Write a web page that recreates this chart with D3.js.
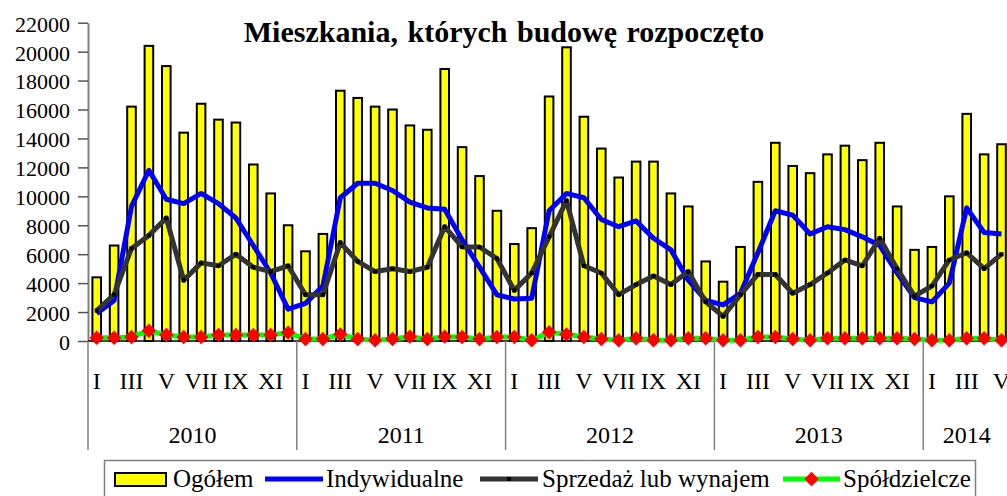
<!DOCTYPE html>
<html>
<head>
<meta charset="utf-8">
<script src="https://cdn.jsdelivr.net/npm/d3@7"></script>
<style>
  html, body { margin: 0; padding: 0; background: #fff; }
  svg { display: block; }
</style>
</head>
<body>
<svg id="chart" width="1007" height="496"></svg>
<script>
// dane: miesiące 2010-I .. 2014-V
const years = ['2010', '2011', '2012', '2013', '2014']
const monthNames = ['I', 'II', 'III', 'IV', 'V', 'VI', 'VII', 'VIII', 'IX', 'X', 'XI', 'XII']
const monthsPerYear = [12, 12, 12, 12, 5]
const yTicks = [0, 2000, 4000, 6000, 8000, 10000, 12000, 14000, 16000, 18000, 20000, 22000]

const ogolem = [
  4400, 6600, 16200, 20400, 19000, 14400, 16400, 15300, 15100, 12200, 10200, 8000,
  6200, 7400, 17300, 16800, 16200, 16000, 14900, 14600, 18800, 13400, 11400, 9000,
  6700, 7800, 16900, 20300, 15500, 13300, 11300, 12400, 12400, 10200, 9300, 5500,
  4100, 6500, 11000, 13700, 12100, 11600, 12900, 13500, 12500, 13700, 9300, 6300,
  6500, 10000, 15700, 12900, 13600
]
const indywidualne = [
  1900, 2800, 9300, 11800, 9800, 9500, 10200, 9500, 8500, 6600, 4700, 2200,
  2600, 3800, 9900, 10900, 10900, 10400, 9600, 9200, 9100, 7000, 5100, 3200,
  2900, 2950, 9000, 10200, 9900, 8400, 7900, 8300, 7100, 6300, 4200, 2800,
  2500, 3300, 6100, 9000, 8700, 7400, 7900, 7700, 7200, 6600, 4700, 3000,
  2700, 4000, 9200, 7500, 7400
]
const sprzedaz = [
  2100, 3200, 6400, 7300, 8500, 4200, 5400, 5200, 6000, 5100, 4800, 5200,
  3200, 3200, 6800, 5500, 4800, 5000, 4800, 5100, 7900, 6500, 6500, 5700,
  3500, 4700, 7200, 9700, 5200, 4700, 3200, 3900, 4500, 3900, 4800, 2700,
  1700, 3200, 4600, 4600, 3300, 3900, 4700, 5600, 5200, 7100, 5000, 3100,
  3800, 5600, 6100, 5000, 6000
]
const spoldzielcze = [
  230, 230, 280, 710, 420, 280, 280, 420, 420, 420, 420, 580,
  140, 140, 460, 140, 50, 140, 300, 140, 300, 280, 140, 280,
  280, 50, 600, 460, 280, 140, 50, 190, 50, 50, 190, 190,
  50, 50, 280, 280, 140, 50, 190, 190, 190, 190, 190, 140,
  50, 50, 190, 190, 50
]

// wybór kroju szeryfowego, który jest zainstalowany
function pickSerif() {
  const ctx = document.createElement('canvas').getContext('2d')
  const probe = 'Mieszkania 2010 XIV ółę'
  ctx.font = '40px monospace'
  const base = ctx.measureText(probe).width
  const list = ['Liberation Serif', 'Times New Roman', 'Tinos', 'DejaVu Serif', 'Noto Serif', 'FreeSerif']
  for (const f of list) {
    ctx.font = `40px "${f}", monospace`
    if (Math.abs(ctx.measureText(probe).width - base) > 0.5) return `"${f}", serif`
  }
  return 'serif'
}
const FONT = pickSerif()

// etykiety miesięcy (rok, miesiąc)
const months = []
years.forEach((yr, yi) => {
  for (let m = 0; m < monthsPerYear[yi]; m++) months.push({ year: yr, m, key: yr + '-' + m })
})

const svg = d3.select('#chart').attr('font-family', FONT)
const W = 1007
const margin = { left: 88, top: 22.7, bottom: 341 }
const band = 17.4

// skale
const x = d3.scaleBand()
  .domain(months.map(d => d.key))
  .range([margin.left, margin.left + band * months.length])
  .padding(0)
const y = d3.scaleLinear().domain([0, 22000]).range([margin.bottom, margin.top])
const cx = i => x(months[i].key) + x.bandwidth() / 2

// tytuł
svg.append('text')
  .attr('x', 504).attr('y', 42)
  .attr('text-anchor', 'middle')
  .attr('font-size', 30).attr('font-weight', 'bold')
  .attr('word-spacing', 2)
  .text('Mieszkania, których budowę rozpoczęto')

// oś Y
const yAxis = svg.append('g')
  .attr('transform', `translate(${margin.left},0)`)
  .call(d3.axisLeft(y).tickValues(yTicks).tickFormat(d3.format('d'))
    .tickSize(10).tickSizeOuter(0).tickPadding(8))
yAxis.attr('font-family', FONT)
yAxis.select('.domain').attr('stroke', '#808080').attr('stroke-width', 2)
yAxis.selectAll('.tick line').attr('stroke', '#555').attr('stroke-width', 1.5)
yAxis.selectAll('.tick text')
  .attr('font-size', 22).attr('fill', '#000').attr('dy', '0.38em')

// słupki - Ogółem
const bw = 8.6
svg.append('g').selectAll('rect')
  .data(ogolem)
  .join('rect')
  .attr('x', (d, i) => cx(i) - bw / 2)
  .attr('y', d => y(d))
  .attr('width', bw)
  .attr('height', d => y(0) - y(d))
  .attr('fill', '#ffff00')
  .attr('stroke', '#000')
  .attr('stroke-width', 2)

// oś X
svg.append('line')
  .attr('x1', margin.left).attr('x2', W)
  .attr('y1', y(0)).attr('y2', y(0))
  .attr('stroke', '#000').attr('stroke-width', 1.5)

// separatory lat
let start = 0
const yearPos = []
years.forEach((yr, yi) => {
  const x0 = x(months[start].key)
  const x1 = x0 + band * monthsPerYear[yi]
  yearPos.push({ yr, x0, x1 })
  start += monthsPerYear[yi]
})
svg.append('g').selectAll('line')
  .data(yearPos)
  .join('line')
  .attr('x1', d => d.x0).attr('x2', d => d.x0)
  .attr('y1', y(0)).attr('y2', 450)
  .attr('stroke', '#808080').attr('stroke-width', 1.5)

// miesiące (co drugi); ostatni przycięty krawędzią jak w oryginale
svg.append('g').selectAll('text')
  .data(months.filter(d => d.m % 2 === 0))
  .join('text')
  .attr('x', d => x(d.key) + x.bandwidth() / 2)
  .attr('y', 389)
  .attr('text-anchor', 'middle')
  .attr('font-size', 24)
  .text(d => monthNames[d.m])

// lata
svg.append('g').selectAll('text')
  .data(yearPos)
  .join('text')
  .attr('x', d => (d.x0 + d.x1) / 2)
  .attr('y', 443)
  .attr('text-anchor', 'middle')
  .attr('font-size', 24)
  .text(d => d.yr)

// linie
const line = d3.line().x((d, i) => cx(i)).y(d => y(d))

svg.append('path')
  .datum(indywidualne)
  .attr('d', line)
  .attr('fill', 'none').attr('stroke', '#0000ff').attr('stroke-width', 5)
  .attr('stroke-linejoin', 'round')

svg.append('path')
  .datum(sprzedaz)
  .attr('d', line)
  .attr('fill', 'none').attr('stroke', '#333').attr('stroke-width', 5)
  .attr('stroke-linejoin', 'round')
svg.append('g').selectAll('rect')
  .data(sprzedaz)
  .join('rect')
  .attr('x', (d, i) => cx(i) - 2).attr('y', d => y(d) - 2)
  .attr('width', 4).attr('height', 4)
  .attr('fill', '#000')

svg.append('path')
  .datum(spoldzielcze)
  .attr('d', line)
  .attr('fill', 'none').attr('stroke', '#00ff00').attr('stroke-width', 5)
  .attr('stroke-linejoin', 'round')
const diamond = d3.symbol().type(d3.symbolSquare).size(104)
svg.append('g').selectAll('path')
  .data(spoldzielcze)
  .join('path')
  .attr('d', diamond)
  .attr('transform', (d, i) => `translate(${cx(i)},${y(d)}) rotate(45)`)
  .attr('fill', '#ff0000')

// legenda
const lg = svg.append('g')
lg.append('rect')
  .attr('x', 104.5).attr('y', 460.5).attr('width', 871).attr('height', 60)
  .attr('fill', '#fff').attr('stroke', '#808080').attr('stroke-width', 1.5)
const ly = 479, lb = 487

lg.append('rect')
  .attr('x', 115).attr('y', 473).attr('width', 51).attr('height', 13)
  .attr('fill', '#ffff00').attr('stroke', '#000').attr('stroke-width', 2)
lg.append('text').attr('x', 173).attr('y', lb).attr('font-size', 25).text('Ogółem')

lg.append('line').attr('x1', 265).attr('x2', 323).attr('y1', ly).attr('y2', ly)
  .attr('stroke', '#0000ff').attr('stroke-width', 5)
lg.append('text').attr('x', 326).attr('y', lb).attr('font-size', 25).text('Indywidualne')

lg.append('line').attr('x1', 480).attr('x2', 538).attr('y1', ly).attr('y2', ly)
  .attr('stroke', '#333').attr('stroke-width', 5)
lg.append('rect').attr('x', 507).attr('y', ly - 2).attr('width', 4).attr('height', 4).attr('fill', '#000')
lg.append('text').attr('x', 542).attr('y', lb).attr('font-size', 25).text('Sprzedaż lub wynajem')

lg.append('line').attr('x1', 783).attr('x2', 840).attr('y1', ly).attr('y2', ly)
  .attr('stroke', '#00ff00').attr('stroke-width', 5)
lg.append('path').attr('d', diamond)
  .attr('transform', `translate(811.5,${ly}) rotate(45)`)
  .attr('fill', '#ff0000')
lg.append('text').attr('x', 843).attr('y', lb).attr('font-size', 25).text('Spółdzielcze')
</script>
</body>
</html>
